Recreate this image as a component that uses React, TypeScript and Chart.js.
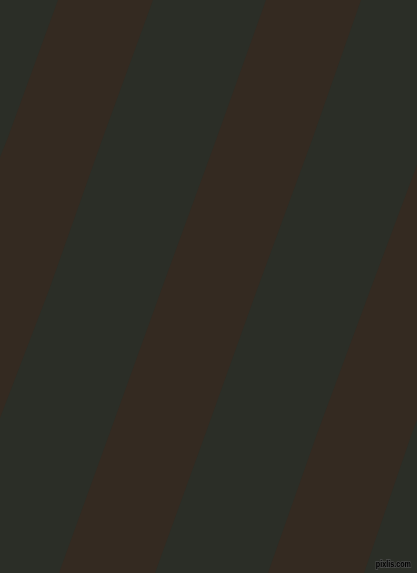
import { useEffect, useRef } from 'react';
import { Chart, registerables } from 'chart.js';

Chart.register(...registerables);

// stripe outlines (x, y in pixels, y down)
const stripeLeft = [
  { x: 58, y: 0 }, { x: 153, y: 0 }, { x: 102, y: 140 }, { x: 49, y: 290 },
  { x: 0, y: 418 }, { x: 0, y: 157 }, { x: 7, y: 140 },
];
const stripeMiddle = [
  { x: 266, y: 0 }, { x: 361, y: 0 }, { x: 312, y: 140 }, { x: 258, y: 287 },
  { x: 205, y: 435 }, { x: 155, y: 573 }, { x: 59, y: 573 }, { x: 109, y: 435 },
  { x: 162, y: 288 }, { x: 216, y: 140 },
];
const stripeRight = [
  { x: 417, y: 165 }, { x: 417, y: 420 }, { x: 412, y: 433 }, { x: 364, y: 573 },
  { x: 268, y: 573 }, { x: 317, y: 434 }, { x: 371, y: 288 },
];
const stripes = [stripeLeft, stripeMiddle, stripeRight];
const watermark = 'pixlis.com';

const GREEN = '#2b2e27';
const BROWN = '#342a21';

const backdrop = {
  id: 'backdrop',
  beforeDraw(chart: Chart) {
    const { ctx, width, height } = chart;
    ctx.save();
    ctx.fillStyle = GREEN;
    ctx.fillRect(0, 0, width, height);
    ctx.restore();
  },
  afterDraw(chart: Chart) {
    const { ctx, width, height } = chart;
    ctx.save();
    // narrow bold label in the bottom-right corner
    ctx.translate(width - 6, height - 6);
    ctx.scale(0.8, 1);
    ctx.font = 'bold 9px "Liberation Sans"';
    ctx.textAlign = 'right';
    ctx.textBaseline = 'alphabetic';
    ctx.lineWidth = 2;
    ctx.strokeStyle = 'rgba(80,80,80,0.7)';
    ctx.strokeText(watermark, 0, 0);
    ctx.fillStyle = '#000';
    ctx.fillText(watermark, 0, 0);
    ctx.restore();
  },
};

function Stripes() {
  const chartRef = useRef<HTMLCanvasElement>(null);
  const chartInstance = useRef<Chart | null>(null);

  useEffect(() => {
    if (!chartRef.current) return;
    const ctx = chartRef.current.getContext('2d');
    if (!ctx) return;
    if (chartInstance.current) chartInstance.current.destroy();

    chartInstance.current = new Chart(ctx, {
      type: 'line',
      data: {
        datasets: stripes.map((pts) => ({
          data: [...pts, pts[0]],
          backgroundColor: BROWN,
          borderColor: BROWN,
          borderWidth: 0,
          pointRadius: 0,
          fill: 'shape',
          tension: 0,
        })),
      },
      options: {
        animation: false,
        responsive: true,
        maintainAspectRatio: false,
        layout: { padding: 0 },
        plugins: { legend: { display: false }, tooltip: { enabled: false } },
        scales: {
          x: { type: 'linear', min: 0, max: 417, display: false },
          y: { type: 'linear', min: 0, max: 573, reverse: true, display: false },
        },
      },
      plugins: [backdrop],
    });

    return () => {
      if (chartInstance.current) {
        chartInstance.current.destroy();
        chartInstance.current = null;
      }
    };
  }, []);

  return <canvas ref={chartRef} />;
}

export default function App() {
  return (
    <div style={{ position: 'fixed', left: 0, top: 0, width: 417, height: 573, background: GREEN }}>
      <Stripes />
    </div>
  );
}
